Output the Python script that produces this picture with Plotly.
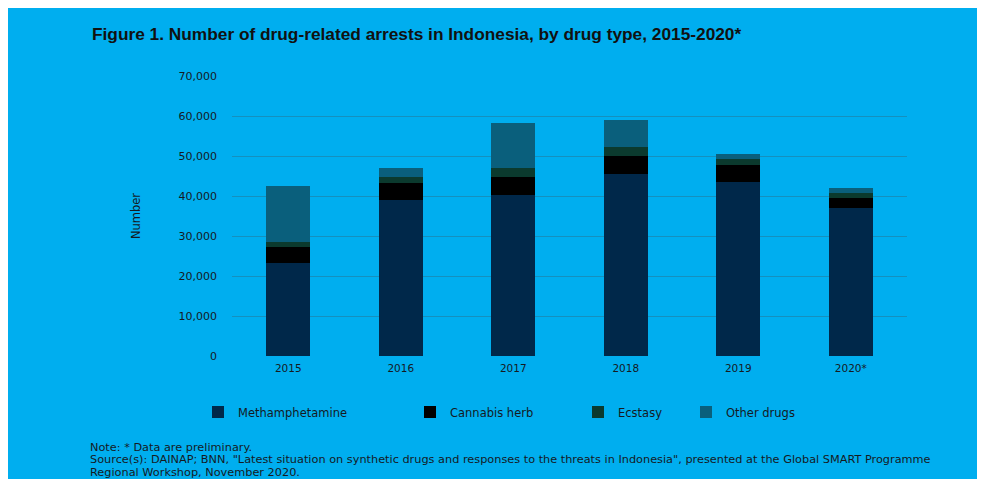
import plotly.graph_objects as go

years = ["2015", "2016", "2017", "2018", "2019", "2020*"]
methamphetamine = [23200, 39000, 40250, 45500, 43400, 37100]
cannabis_herb = [4000, 4300, 4400, 4500, 4250, 2350]
ecstasy = [1400, 1350, 2250, 2350, 1600, 1250]
other_drugs = [13900, 2400, 11250, 6650, 1150, 1250]

series_names = ["Methamphetamine", "Cannabis herb", "Ecstasy", "Other drugs"]
series_values = [methamphetamine, cannabis_herb, ecstasy, other_drugs]
series_colors = ["#00284A", "#000000", "#0B3A2E", "#0A5F7C"]
legend_ids = ["legend", "legend2", "legend3", "legend4"]

y_ticks = [0, 10000, 20000, 30000, 40000, 50000, 60000, 70000]
y_ticktext = ["0", "10,000", "20,000", "30,000", "40,000", "50,000", "60,000", "70,000"]

title_text = "Figure 1. Number of drug-related arrests in Indonesia, by drug type, 2015-2020*"
note_lines = [
    "Note: * Data are preliminary.",
    "Source(s): DAINAP; BNN, \"Latest situation on synthetic drugs and responses to the threats in Indonesia\", presented at the Global SMART Programme",
    "Regional Workshop, November 2020.",
]

BG = "#00AEEF"
TXT = "#151a1f"
FONT = "DejaVu Sans"
TFONT = "Liberation Sans"

# page offset of the figure (browser body margin)
OFF = 8
W, H = 985 - OFF, 479 - OFF
# plot area in page pixels
PL, PR, PT, PB = 232, 907, 76, 356
L, R, T, B = PL - OFF, W - (PR - OFF), PT - OFF, H - (PB - OFF)
pw, ph = W - L - R, H - T - B

def px_x(x):
    return (x - PL) / pw

def px_y(y):
    return (PB - y) / ph

fig = go.Figure()
for name, vals, col, lg in zip(series_names, series_values, series_colors, legend_ids):
    fig.add_trace(go.Bar(x=years, y=vals, name=name, marker=dict(color=col, line=dict(width=0)),
                         legend=lg, showlegend=True))

legend_pos = [198, 410, 578, 686]
legend_common = dict(orientation="h", yanchor="middle", xanchor="left", bgcolor="rgba(0,0,0,0)",
                     font=dict(family=FONT, size=11.5, color=TXT))
layout_legends = {}
for lg, pos in zip(legend_ids, legend_pos):
    layout_legends[lg] = dict(x=px_x(pos), y=px_y(412), **legend_common)

annotations = [
    dict(text="<b>" + title_text + "</b>", xref="paper", yref="paper", x=px_x(90), y=px_y(34),
         xanchor="left", yanchor="middle", showarrow=False,
         font=dict(family=TFONT, size=17.3, color="#111111")),
]
for i, line in enumerate(note_lines):
    annotations.append(dict(text=line, xref="paper", yref="paper", x=px_x(88), y=px_y(447 + 12.5 * i),
                            xanchor="left", yanchor="middle", showarrow=False,
                            font=dict(family=FONT, size=11.3, color=TXT)))

fig.update_layout(
    barmode="stack",
    bargap=0.61,
    width=W, height=H,
    margin=dict(l=L, r=R, t=T, b=B),
    paper_bgcolor=BG, plot_bgcolor=BG,
    font=dict(family=FONT, size=11, color=TXT),
    showlegend=True,
    annotations=annotations,
    **layout_legends,
)
fig.update_xaxes(showgrid=False, showline=False, zeroline=False, ticks="",
                 tickfont=dict(family=FONT, size=10.5, color=TXT), ticklabelstandoff=4)
fig.update_yaxes(range=[0, 70000], tickvals=y_ticks, ticktext=y_ticktext,
                 showgrid=True, gridcolor="#1590BE", gridwidth=1, zeroline=False, showline=False,
                 tickfont=dict(family=FONT, size=11, color=TXT), ticklabelstandoff=14,
                 title=dict(text="Number", standoff=35, font=dict(family=FONT, size=11.5, color=TXT)))

fig.write_html("out.html")
